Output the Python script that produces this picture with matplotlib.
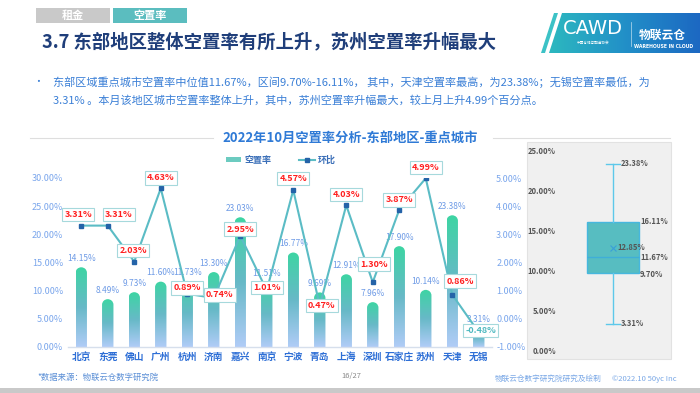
import numpy as np
import matplotlib
matplotlib.use('Agg')
import matplotlib.pyplot as plt
from matplotlib.path import Path
from matplotlib.patches import PathPatch, Rectangle, Polygon, Patch
from matplotlib.colors import LinearSegmentedColormap
from matplotlib.transforms import Affine2D
from matplotlib.lines import Line2D
import matplotlib.cbook as cbook
from decimal import Decimal, ROUND_HALF_UP

plt.rcParams['font.family'] = ['Noto Sans CJK SC', 'DejaVu Sans']
plt.rcParams['axes.unicode_minus'] = False

# ---------------- data ----------------
cities = ['北京', '东莞', '佛山', '广州', '杭州', '济南', '嘉兴', '南京',
          '宁波', '青岛', '上海', '深圳', '石家庄', '苏州', '天津', '无锡']
vacancy = [14.15, 8.49, 9.73, 11.60, 11.73, 13.30, 23.03, 11.51,
           16.77, 9.69, 12.91, 7.96, 17.90, 10.14, 23.38, 3.31]
mom = [3.31, 3.31, 2.03, 4.63, 0.89, 0.74, 2.95, 1.01,
       4.57, 0.47, 4.03, 1.30, 3.87, 4.99, 0.86, -0.48]
left_ticks = [0, 5, 10, 15, 20, 25, 30]
right_ticks = [-1, 0, 1, 2, 3, 4, 5]
box_ticks = [0, 5, 10, 15, 20, 25]

# label offsets (pixels) for the month-on-month labels (style only)
mom_offsets = [(-3, 11), (11, 11), (-1, 11), (0, 10.5), (0, 6), (6, 3), (0, 6.5), (0, 3),
               (0, 11.5), (2, 0), (0, 11), (1, 18), (0, 10), (0, 11), (8, 13.5), (2, 2)]

W, H = 700, 393
fig = plt.figure(figsize=(7, 3.93), dpi=100)
fig.patch.set_facecolor('white')


def fx(x):
    return x / W


def fy(y):
    return 1 - y / H


def ax_rect(x0, y0, x1, y1):
    return [x0 / W, 1 - y1 / H, (x1 - x0) / W, (y1 - y0) / H]


def pct(v):
    d = Decimal(repr(float(v))).quantize(Decimal('0.01'), rounding=ROUND_HALF_UP)
    return f'{d}%'


def pct_plain(v):
    return f'{v:.2f}%'


# ---------------- header ----------------
fig.add_artist(Rectangle((fx(36), fy(23)), 74 / W, 15 / H, transform=fig.transFigure,
                         fc='#c9c9c9', ec='none'))
fig.add_artist(Rectangle((fx(113), fy(23)), 74 / W, 15 / H, transform=fig.transFigure,
                         fc='#5bbdbf', ec='none'))
fig.text(fx(73), fy(15.5), '租金', color='white', fontsize=8, fontweight='bold',
         ha='center', va='center')
fig.text(fx(150), fy(15.5), '空置率', color='white', fontsize=8, fontweight='bold',
         ha='center', va='center')
fig.text(fx(42), fy(42), '3.7 东部地区整体空置率有所上升，苏州空置率升幅最大',
         color='#1f3e7a', fontsize=13.2, fontweight='bold', ha='left', va='center')

# logo
lax = fig.add_axes(ax_rect(540, 13, 700, 53))
lax.set_xlim(540, 700)
lax.set_ylim(53, 13)
lax.axis('off')
lcmap = LinearSegmentedColormap.from_list('logo', ['#2cb8bf', '#2290c8', '#1c68c2'])
poly = Polygon([(549, 53), (562, 13), (700, 13), (700, 53)], closed=True,
               fc='none', ec='none')
lax.add_patch(poly)
lim = lax.imshow(np.linspace(0, 1, 256).reshape(1, -1), extent=[549, 700, 53, 13],
                 cmap=lcmap, aspect='auto')
lim.set_clip_path(poly)
lax.add_patch(Polygon([(541, 53), (554, 13), (558, 13), (545, 53)], closed=True,
                      fc='#3cc2c6', ec='none'))
lax.set_xlim(540, 700)
lax.set_ylim(53, 13)
lax.text(593, 29, 'CAWD', color='white', fontsize=14, family='DejaVu Sans',
         fontweight='normal', ha='center', va='center')
lax.text(593, 43, '中国仓储与配送协会', color='white', fontsize=2.6, ha='center', va='center')
lax.plot([631, 631], [22, 46], color='white', lw=0.5, alpha=0.7)
lax.text(662, 35, '物联云仓', color='white', fontsize=8.5, fontweight='bold',
         ha='center', va='center')
lax.text(664, 46, 'WAREHOUSE IN CLOUD', color='white', fontsize=3.3, fontweight='bold',
         ha='center', va='center', family='DejaVu Sans')

# bullet text
txt_color = '#3a7fd6'
fig.text(fx(38), fy(82), '•', color=txt_color, fontsize=7, ha='center', va='center')
fig.text(fx(53), fy(82),
         '东部区域重点城市空置率中位值11.67%，区间9.70%-16.11%， 其中，天津空置率最高，为23.38%；无锡空置率最低，为',
         color=txt_color, fontsize=8, ha='left', va='center')
fig.text(fx(53), fy(100),
         '3.31% 。本月该地区城市空置率整体上升，其中，苏州空置率升幅最大，较上月上升4.99个百分点。',
         color=txt_color, fontsize=8, ha='left', va='center')

# chart title with side lines
fig.text(fx(350), fy(138), '2022年10月空置率分析-东部地区-重点城市', color='#2f7ad6',
         fontsize=9.5, fontweight='bold', ha='center', va='center')
fig.add_artist(Line2D([fx(30), fx(213)], [fy(138), fy(138)], color='#dedede', lw=0.8))
fig.add_artist(Line2D([fx(493), fx(670)], [fy(138), fy(138)], color='#dedede', lw=0.8))

# ---------------- main chart ----------------
ax = fig.add_axes(ax_rect(68, 178, 492, 347))
x = np.arange(len(cities))
bw = 0.43
px_per_unit = (347 - 178) / 30.0
ry = 5.5 / px_per_unit
cmap = LinearSegmentedColormap.from_list('bar', ['#b0ccf7', '#67b9c7', '#3dd5a3'])
grad = np.linspace(0, 1, 256).reshape(-1, 1)
bars = ax.bar(x, vacancy, width=bw, color='none', edgecolor='none')
for rect in bars:
    x0 = rect.get_x()
    w = rect.get_width()
    h = rect.get_height()
    r = min(ry, h)
    arc = Path.arc(0, 180)
    arc_v = Affine2D().scale(w / 2, r).translate(x0 + w / 2, h - r).transform(arc.vertices)
    verts = [(x0, 0), (x0 + w, 0), (x0 + w, h - r)] + [tuple(v) for v in arc_v[1:]] + [(x0, 0)]
    codes = [Path.MOVETO, Path.LINETO, Path.LINETO] + list(arc.codes[1:]) + [Path.CLOSEPOLY]
    patch = PathPatch(Path(verts, codes), fc='none', ec='none')
    ax.add_patch(patch)
    im = ax.imshow(grad, extent=[x0, x0 + w, 0, h], origin='lower', cmap=cmap,
                   aspect='auto', zorder=2, interpolation='bilinear')
    im.set_clip_path(patch)

for i, v in enumerate(vacancy):
    ax.annotate(pct(v), (i, v), xytext=(0, 3), textcoords='offset points',
                ha='center', va='bottom', fontsize=6, color='#6e9be6', zorder=3)

ax.set_xlim(-0.5, 15.5)
ax.set_ylim(0, 30)
ax.set_yticks(left_ticks)
ax.set_yticklabels([f'{t:.2f}%' for t in left_ticks])
ax.set_xticks(x)
ax.set_xticklabels(cities)
ax.tick_params(axis='y', length=0, pad=3.6, labelsize=6.5, labelcolor='#7aa6ec')
ax.tick_params(axis='x', length=0, pad=3.5, labelsize=7, labelcolor='#2e6fd6')
for lbl in ax.get_xticklabels():
    lbl.set_fontweight('bold')
for s in ['top', 'left', 'right']:
    ax.spines[s].set_visible(False)
ax.spines['bottom'].set_color('#d6dfec')
ax.spines['bottom'].set_linewidth(1)
ax.patch.set_alpha(0)

ax2 = ax.twinx()
ax2.set_ylim(-1, 5)
ax2.set_yticks(right_ticks)
ax2.set_yticklabels([f'{t:.2f}%' for t in right_ticks])
ax2.tick_params(axis='y', length=0, pad=3, labelsize=6.5, labelcolor='#7aa6ec')
for s in ax2.spines.values():
    s.set_visible(False)
line_color = '#5bbcc5'
ax2.plot(x, mom, color=line_color, lw=1.5, marker='s', ms=3.2, mfc='#2463a8',
         mec='#2463a8', zorder=3)
for i, v in enumerate(mom):
    dx, dy = mom_offsets[i]
    c = '#ff1f1f' if v >= 0 else '#4fb9c0'
    ax2.annotate(pct(v), (i, v), xytext=(dx * 0.72, dy * 0.72),
                 textcoords='offset points', ha='center', va='center', fontsize=6.5,
                 fontweight='bold', color=c, zorder=5,
                 bbox=dict(boxstyle='square,pad=0.25', fc='white', ec='#a6d9dc', lw=0.8))

fig.legend(handles=[Patch(fc='#6ccbc0', ec='none'),
                    Line2D([0], [0], color=line_color, marker='s', mfc='#2463a8',
                           mec='#2463a8', ms=3, lw=1.5)],
           labels=['空置率', '环比'], loc='center', bbox_to_anchor=(fx(281), fy(160)),
           ncol=2, frameon=False, prop={'size': 6.5, 'weight': 'bold'},
           handlelength=1.7, handleheight=0.6, handletextpad=0.35, columnspacing=3.1,
           labelcolor='#3b6fb8')

# ---------------- box plot panel ----------------
fig.add_artist(Rectangle((fx(527), fy(359)), (671 - 527) / W, (359 - 142) / H,
                         transform=fig.transFigure, fc='#f0f0f0', ec='#e2e2e2', lw=0.8,
                         zorder=0))
bax = fig.add_axes(ax_rect(560, 151, 671, 350))
bax.patch.set_alpha(0)
stats = cbook.boxplot_stats(vacancy, whis=(0, 100))[0]
q1, q3 = np.percentile(vacancy, [25, 75], method='weibull')
stats['q1'] = q1
stats['q3'] = q3
bax.bxp([stats], positions=[53], widths=52, capwidths=[14], showmeans=True,
        showfliers=False, patch_artist=True,
        boxprops=dict(facecolor='#57bdc1', edgecolor='#46b7de', lw=1),
        medianprops=dict(color='#3faed8', lw=1),
        whiskerprops=dict(color='#5dc8ea', lw=1),
        capprops=dict(color='#5dc8ea', lw=1),
        meanprops=dict(marker='x', markeredgecolor='#3a9fd8', markersize=4,
                       markeredgewidth=0.8))
bax.set_xlim(0, 111)
bax.set_ylim(0, 25)
bax.set_yticks(box_ticks)
bax.set_yticklabels([f'{t:.2f}%' for t in box_ticks])
bax.set_xticks([])
bax.tick_params(axis='y', length=0, pad=3, labelsize=5.5, labelcolor='#555555')
for lbl in bax.get_yticklabels():
    lbl.set_fontweight('bold')
for s in bax.spines.values():
    s.set_visible(False)
bstyle = dict(fontsize=5.5, color='#555555', fontweight='bold', va='center', ha='left')
bax.text(61, stats['whishi'], pct(stats['whishi']), **bstyle)
bax.text(80, stats['q3'], pct_plain(stats['q3']), **bstyle)
bax.text(57, stats['mean'], pct(stats['mean']), **bstyle)
bax.text(80, stats['med'], pct(stats['med']), **bstyle)
bax.text(80, stats['q1'] - 0.2, pct_plain(stats['q1']), **bstyle)
bax.text(61, stats['whislo'], pct(stats['whislo']), **bstyle)

# ---------------- footer ----------------
fig.text(fx(37), fy(377), '*数据来源：物联云仓数字研究院', color='#5b8fd6', fontsize=6,
         ha='left', va='center', style='italic')
fig.text(fx(351), fy(376), '16/27', color='#8a8a8a', fontsize=5.5, ha='center', va='center')
fig.text(fx(602), fy(379), '物联云仓数字研究院研究及绘制', color='#7aa8e6', fontsize=5.5,
         ha='right', va='center')
fig.text(fx(612), fy(379), '©2022.10 50yc Inc', color='#7aa8e6', fontsize=5.5,
         ha='left', va='center')
fig.add_artist(Rectangle((0, 0), 1, 5 / H, transform=fig.transFigure, fc='#c9c9c9',
                         ec='none'))

fig.savefig('out.png', dpi=100)
